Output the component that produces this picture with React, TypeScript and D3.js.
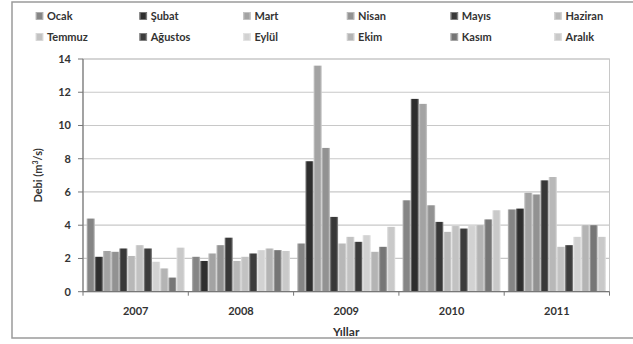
import React from "react";
import * as d3 from "d3";

// Monthly mean discharge (m³/s) per year
const months = ["Ocak", "Şubat", "Mart", "Nisan", "Mayıs", "Haziran", "Temmuz", "Ağustos", "Eylül", "Ekim", "Kasım", "Aralık"];
const years = ["2007", "2008", "2009", "2010", "2011"];
const flow2007 = [4.4, 2.1, 2.45, 2.4, 2.6, 2.15, 2.8, 2.6, 1.8, 1.4, 0.85, 2.65];
const flow2008 = [2.1, 1.85, 2.3, 2.8, 3.25, 1.85, 2.1, 2.3, 2.5, 2.6, 2.5, 2.45];
const flow2009 = [2.9, 7.85, 13.6, 8.65, 4.5, 2.9, 3.3, 3.0, 3.4, 2.4, 2.7, 3.9];
const flow2010 = [5.5, 11.6, 11.3, 5.2, 4.2, 3.6, 3.95, 3.8, 3.95, 4.0, 4.35, 4.9];
const flow2011 = [4.95, 5.0, 5.95, 5.85, 6.7, 6.9, 2.7, 2.8, 3.3, 4.0, 4.0, 3.3];
const yTicks = [0, 2, 4, 6, 8, 10, 12, 14];

const flows = [flow2007, flow2008, flow2009, flow2010, flow2011];

// Grey fill per month
const monthColors = ["#858585", "#2e2e2e", "#a3a3a3", "#929292", "#383838", "#b8b8b8", "#c2c2c2", "#3c3c3c", "#d2d2d2", "#b4b4b4", "#767676", "#c9c9c9"];

const W = 633;
const H = 344;
const plot = { left: 83, right: 609.5, top: 59, bottom: 291.7 };
const FONT = "Lato, 'Open Sans', sans-serif";

export default function App() {
  const x0 = d3.scaleBand<string>().domain(years).range([plot.left, plot.right]).paddingInner(0.069).paddingOuter(0.0345);
  const x1 = d3.scaleBand<string>().domain(months).range([0, x0.bandwidth()]).padding(0);
  const y = d3.scaleLinear().domain([0, 14]).range([plot.bottom, plot.top]);

  const legendX = (i: number) => 36 + (i % 6) * 103.7;
  const legendY = (i: number) => (i < 6 ? 16 : 37);

  return (
    <svg width={W} height={H} style={{ position: "absolute", left: 0, top: 0, background: "#fff" }} fontFamily={FONT}>
      <defs>
        {monthColors.map((c, i) => {
          const edge = d3.interpolateRgb(c, "#ffffff")(0.45);
          return (
            <linearGradient key={i} id={`g${i}`} x1="0" x2="1" y1="0" y2="0">
              <stop offset="0" stopColor={edge} />
              <stop offset="0.22" stopColor={c} />
              <stop offset="0.78" stopColor={c} />
              <stop offset="1" stopColor={edge} />
            </linearGradient>
          );
        })}
      </defs>

      {/* chart frame */}
      <rect x={12} y={2} width={700} height={336} fill="none" stroke="#9a9a9a" strokeWidth={1.5} />

      {/* legend */}
      {months.map((m, i) => (
        <g key={m} transform={`translate(${legendX(i)},${legendY(i)})`}>
          <rect x={0} y={-3.5} width={7} height={7} fill={`url(#g${i})`} stroke={d3.interpolateRgb(monthColors[i], "#fff")(0.3)} strokeWidth={0.8} />
          <text x={11} y={0} dy="0.35em" fontSize={11} fontWeight={700} fill="#333">{m}</text>
        </g>
      ))}

      {/* plot area frame and gridlines */}
      <rect x={plot.left} y={plot.top} width={plot.right - plot.left} height={plot.bottom - plot.top} fill="none" stroke="#c8c8c8" strokeWidth={1} />
      {yTicks.filter((t) => t > 0).map((t) => (
        <line key={t} x1={plot.left} x2={plot.right} y1={y(t)} y2={y(t)} stroke="#c8c8c8" strokeWidth={1.2} />
      ))}

      {/* bars */}
      {years.map((yr, gi) => (
        <g key={yr} transform={`translate(${x0(yr)},0)`}>
          {flows[gi].map((v, mi) => (
            <rect
              key={mi}
              x={x1(months[mi])}
              y={y(v)}
              width={x1.bandwidth()}
              height={y(0) - y(v)}
              fill={`url(#g${mi})`}
            />
          ))}
        </g>
      ))}

      {/* y axis */}
      <line x1={plot.left} x2={plot.left} y1={plot.top} y2={plot.bottom} stroke="#777" strokeWidth={1.2} />
      {yTicks.map((t) => (
        <g key={t}>
          <line x1={plot.left - 5} x2={plot.left} y1={y(t)} y2={y(t)} stroke="#777" strokeWidth={1} />
          <text x={71} y={y(t)} dy="0.35em" textAnchor="end" fontSize={11} fontWeight={700} fill="#333">{t}</text>
        </g>
      ))}
      <text transform={`translate(38,${(plot.top + plot.bottom) / 2}) rotate(-90)`} textAnchor="middle" dy="0.35em" fontSize={11} fontWeight={700} fill="#333">
        Debi (m<tspan dy="-4" fontSize={7}>3</tspan><tspan dy="4">/s)</tspan>
      </text>

      {/* x axis */}
      <line x1={plot.left} x2={plot.right} y1={plot.bottom} y2={plot.bottom} stroke="#777" strokeWidth={1.2} />
      {years.map((yr, i) => {
        const edge = plot.left + i * x0.step();
        return <line key={yr} x1={edge} x2={edge} y1={plot.bottom} y2={plot.bottom + 4} stroke="#777" strokeWidth={1} />;
      })}
      <line x1={plot.right} x2={plot.right} y1={plot.bottom} y2={plot.bottom + 4} stroke="#777" strokeWidth={1} />
      {years.map((yr) => (
        <text key={yr} x={(x0(yr) ?? 0) + x0.bandwidth() / 2} y={311} dy="0.35em" textAnchor="middle" fontSize={11} fontWeight={700} fill="#333">{yr}</text>
      ))}
      <text x={(plot.left + plot.right) / 2} y={332} dy="0.35em" textAnchor="middle" fontSize={12} fontWeight={700} fill="#333">Yıllar</text>
    </svg>
  );
}
